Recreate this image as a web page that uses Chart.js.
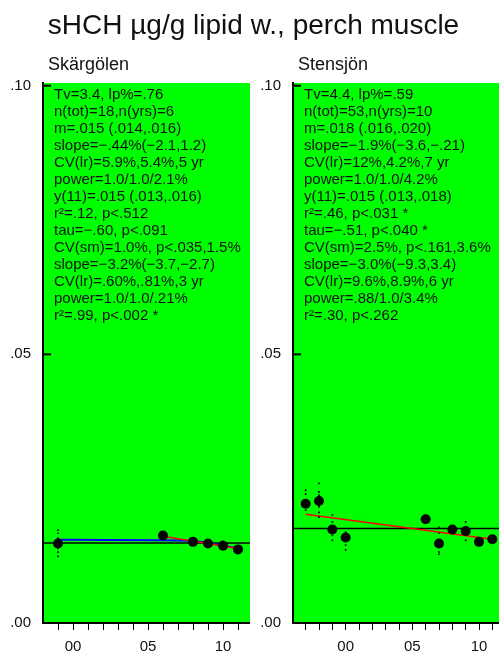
<!DOCTYPE html>
<html>
<head>
<meta charset="utf-8">
<script src="https://cdn.jsdelivr.net/npm/chart.js@4.4.0/dist/chart.umd.min.js"></script>
<style>
    body { margin: 0; background: #fff; width: 499px; height: 653px; overflow: hidden; position: relative; }
    #title { position: absolute; left: 4px; top: 7px; width: 499px; text-align: center; z-index: 2;
             font: 28px "Liberation Sans", Arial, sans-serif; line-height: 36px; color: #111; }
    #c1 { position: absolute; left: 0; top: 0; }
    #c2 { position: absolute; left: 250px; top: 0; }
</style>
</head>
<body>
<canvas id="c1" width="250" height="653"></canvas>
<canvas id="c2" width="249" height="653"></canvas>
<div id="title">sHCH µg/g lipid w., perch muscle</div>
<script>
// shared axis ticks
const yTickValues = [0, 0.05, 0.10];
const yTickLabels = ['.00', '.05', '.10'];

// Skärgölen (left)
const skarYears = [1999, 2006, 2008, 2009, 2010, 2011];
const skarMeans = [0.0148, 0.0163, 0.0151, 0.0148, 0.0144, 0.0137];
const skarSampleYears = [1999, 1999, 1999, 1999, 1999, 1999, 2010];
const skarSamples = [0.0173, 0.0167, 0.0158, 0.0139, 0.0132, 0.0124, 0.0152];
const skarMeanLevel = 0.0149;
const skarTrendYears = [2006, 2011];
const skarTrend = [0.01615, 0.01386];
const skarSmooth = [0.0155, 0.0154, 0.0153, 0.0149, 0.0144, 0.0139];
const skarText = [
    'Tv=3.4, lp%=.76',
    'n(tot)=18,n(yrs)=6',
    'm=.015 (.014,.016)',
    'slope=\u2212.44%(\u22122.1,1.2)',
    'CV(lr)=5.9%,5.4%,5 yr',
    'power=1.0/1.0/2.1%',
    'y(11)=.015 (.013,.016)',
    'r\u00b2=.12, p<.512',
    'tau=\u2212.60, p<.091',
    'CV(sm)=1.0%, p<.035,1.5%',
    'slope=\u22123.2%(\u22123.7,\u22122.7)',
    'CV(lr)=.60%,.81%,3 yr',
    'power=1.0/1.0/.21%',
    'r\u00b2=.99, p<.002 *'
];

// Stensjön (right)
const stenYears = [1997, 1998, 1999, 2000, 2006, 2007, 2008, 2009, 2010, 2011];
const stenMeans = [0.0222, 0.0227, 0.0174, 0.0159, 0.0193, 0.0148, 0.0174, 0.0171, 0.0151, 0.0156];
const stenSampleYears = [1997, 1997, 1997, 1997,
    1998, 1998, 1998, 1998, 1998, 1998, 1998,
    1999, 1999, 1999, 1999,
    2000, 2000, 2000,
    2007, 2007, 2007, 2007,
    2009, 2009];
const stenSamples = [0.0247, 0.0240, 0.0216, 0.0210,
    0.0260, 0.0244, 0.0238, 0.0232, 0.0216, 0.0206, 0.0197,
    0.0201, 0.0188, 0.0163, 0.0154,
    0.0169, 0.0145, 0.0136,
    0.0178, 0.0167, 0.0132, 0.0128,
    0.0188, 0.0154];
const stenMeanLevel = 0.0176;
const stenTrendYears = [1997, 2011];
const stenTrend = [0.02025, 0.0156];
const stenText = [
    'Tv=4.4, lp%=.59',
    'n(tot)=53,n(yrs)=10',
    'm=.018 (.016,.020)',
    'slope=\u22121.9%(\u22123.6,\u2212.21)',
    'CV(lr)=12%,4.2%,7 yr',
    'power=1.0/1.0/4.2%',
    'y(11)=.015 (.013,.018)',
    'r\u00b2=.46, p<.031 *',
    'tau=\u2212.51, p<.040 *',
    'CV(sm)=2.5%, p<.161,3.6%',
    'slope=\u22123.0%(\u22129.3,3.4)',
    'CV(lr)=9.6%,8.9%,6 yr',
    'power=.88/1.0/3.4%',
    'r\u00b2=.30, p<.262'
];

const FONT = '"Liberation Sans", Arial, sans-serif';

const pairs = (xs, ys) => xs.map((x, i) => ({ x: x, y: ys[i] }));

// green plot box, inward y ticks, panel name and stats text
const panelDecor = {
    id: 'panelDecor',
    beforeDraw(chart) {
        const a = chart.chartArea;
        const ctx = chart.ctx;
        ctx.save();
        ctx.fillStyle = '#00ff00';
        ctx.fillRect(a.left, a.top, a.right - a.left, a.bottom - a.top);
        ctx.restore();
    },
    afterDraw(chart, args, opts) {
        const a = chart.chartArea;
        const ctx = chart.ctx;
        const y = chart.scales.y;
        ctx.save();
        ctx.strokeStyle = '#000';
        ctx.lineWidth = 2;
        yTickValues.forEach(v => {
            const py = y.getPixelForValue(v);
            ctx.beginPath();
            ctx.moveTo(a.left, py);
            ctx.lineTo(a.left + 8, py);
            ctx.stroke();
        });
        ctx.fillStyle = '#111';
        ctx.textAlign = 'left';
        ctx.textBaseline = 'middle';
        ctx.font = '18px ' + FONT;
        ctx.fillText(opts.name, a.left + 5, 65);
        ctx.font = '15px ' + FONT;
        opts.lines.forEach((t, i) => ctx.fillText(t, a.left + 11, 95 + i * 17));
        ctx.restore();
    }
};

function makePanel(id, p) {
    const ctx = document.getElementById(id);
    return new Chart(ctx, {
        type: 'scatter',
        data: {
            datasets: [
                {
                    type: 'line',
                    data: pairs([p.xMin, p.xMax], [p.meanLevel, p.meanLevel]),
                    borderColor: '#000',
                    borderWidth: 1.5,
                    pointRadius: 0,
                    order: 5
                },
                {
                    type: 'line',
                    data: p.smooth ? pairs(p.years, p.smooth) : [],
                    borderColor: '#0000ff',
                    borderWidth: 2,
                    pointRadius: 0,
                    order: 4
                },
                {
                    type: 'line',
                    data: pairs(p.trendYears, p.trend),
                    borderColor: '#ff0000',
                    borderWidth: 1.5,
                    pointRadius: 0,
                    order: 3
                },
                {
                    data: pairs(p.sampleYears, p.samples),
                    pointStyle: 'rect',
                    pointRadius: 1.2,
                    backgroundColor: '#000',
                    borderWidth: 0,
                    order: 2
                },
                {
                    data: pairs(p.years, p.means),
                    pointRadius: 5,
                    backgroundColor: '#000',
                    borderWidth: 0,
                    order: 1
                }
            ]
        },
        options: {
            responsive: false,
            animation: false,
            devicePixelRatio: 1,
            layout: { autoPadding: false, padding: { top: 83, left: 0, right: 0, bottom: 0 } },
            plugins: {
                legend: { display: false },
                tooltip: { enabled: false },
                panelDecor: { name: p.name, lines: p.lines }
            },
            scales: {
                x: {
                    type: 'linear',
                    min: p.xMin,
                    max: p.xMax,
                    afterBuildTicks: s => {
                        const t = [];
                        for (let yr = p.tickFrom; yr <= 2011; yr++) t.push({ value: yr });
                        s.ticks = t;
                    },
                    afterFit: s => {
                        s.height = 30;
                        s.paddingLeft = 0;
                        s.paddingRight = 0;
                    },
                    border: { display: true, color: '#000', width: 2 },
                    grid: { drawOnChartArea: false, drawTicks: true, tickLength: 7, color: '#000', lineWidth: 1 },
                    ticks: {
                        autoSkip: false,
                        maxRotation: 0,
                        padding: 8,
                        color: '#111',
                        font: { family: FONT, size: 15 },
                        callback: v => (v % 5 === 0 ? String(v % 100).padStart(2, '0') : '')
                    }
                },
                y: {
                    min: 0,
                    max: 0.1005,
                    afterBuildTicks: s => { s.ticks = yTickValues.map(v => ({ value: v })); },
                    afterFit: s => { s.width = 43; },
                    border: { display: true, color: '#000', width: 2 },
                    grid: { drawOnChartArea: false, drawTicks: false },
                    ticks: {
                        padding: 12,
                        color: '#111',
                        font: { family: FONT, size: 15 },
                        callback: v => yTickLabels[yTickValues.indexOf(v)]
                    }
                }
            }
        },
        plugins: [panelDecor]
    });
}

makePanel('c1', {
    name: 'Sk\u00e4rg\u00f6len', lines: skarText,
    xMin: 1998, xMax: 2011.8, tickFrom: 1999,
    years: skarYears, means: skarMeans,
    sampleYears: skarSampleYears, samples: skarSamples,
    meanLevel: skarMeanLevel, trendYears: skarTrendYears, trend: skarTrend,
    smooth: skarSmooth
});

makePanel('c2', {
    name: 'Stensj\u00f6n', lines: stenText,
    xMin: 1996.05, xMax: 2011.5, tickFrom: 1997,
    years: stenYears, means: stenMeans,
    sampleYears: stenSampleYears, samples: stenSamples,
    meanLevel: stenMeanLevel, trendYears: stenTrendYears, trend: stenTrend,
    smooth: null
});
</script>
</body>
</html>
